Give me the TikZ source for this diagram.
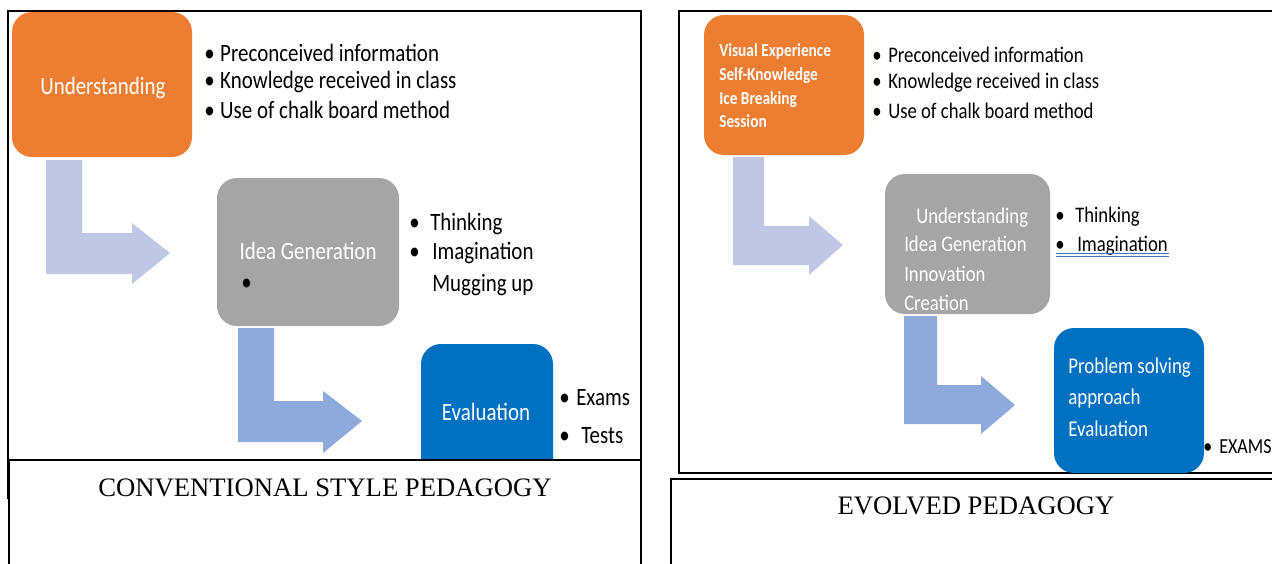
\documentclass[tikz,border=0pt]{standalone}
\usepackage{fontspec}
\setmainfont{Carlito}[FakeStretch=0.84]
\newfontfamily\capfont{Liberation Serif}
\definecolor{boxorange}{HTML}{ED7D31}
\definecolor{boxgray}{HTML}{A5A5A5}
\definecolor{boxblue}{HTML}{0070C0}
\definecolor{arrowlav}{HTML}{BFC7E4}
\definecolor{arrowblue}{HTML}{8EA9DB}
\definecolor{ulblue}{HTML}{4472C4}
\newcommand\bul[1]{\makebox[#1][l]{•}}
\begin{document}
\begin{tikzpicture}[x=0.75pt,y=-0.75pt,
  frame/.style={draw=black,line width=1.1pt},
  rbox/.style={rounded corners=15pt,inner sep=0pt},
  bigtxt/.style={font=\fontsize{18.7}{22}\selectfont,anchor=base west,inner sep=0pt},
  bigc/.style={font=\fontsize{18.7}{22}\selectfont,anchor=base,inner sep=0pt,text=white},
  midtxt/.style={font=\fontsize{16.7}{20}\selectfont,anchor=base west,inner sep=0pt},
  smalltxt/.style={font=\fontsize{13.7}{16}\selectfont\bfseries,anchor=base west,inner sep=0pt,text=white},
  captxt/.style={font=\capfont\fontsize{20}{24}\selectfont,inner sep=0pt}]
\useasboundingbox (0,0) rectangle (1272,564);
\clip (0,0) rectangle (1272,564);
\fill[white] (0,0) rectangle (1272,564);

% ---------------- left panel ----------------
\draw[frame] (8,11) rectangle (641,498);

\node[rbox,fill=boxorange,minimum width=135pt,minimum height=108.75pt] (lund) at (102,84.5) {};
\node[rbox,fill=boxgray,minimum width=136.5pt,minimum height=111pt] (lidea) at (308,252) {};
\node[rbox,fill=boxblue,minimum width=99pt,minimum height=105pt] (leval) at (487,414) {};
\node[bigc] (lundt) at (103,94) {Understanding};
\node[bigc] (lideat) at (308,259) {Idea Generation};
\node[bigc] (levalt) at (486,420) {Evaluation};

\fill[arrowlav] (46,160) -- (82,160) -- (82,233) -- (132,233) -- (132,223) -- (170,253)
  -- (132,284) -- (132,274) -- (46,274) -- cycle;
\fill[arrowblue] (238,328) -- (274,328) -- (274,401) -- (323,401) -- (323,391) -- (362,421)
  -- (323,453) -- (323,442) -- (238,442) -- cycle;

\node[bigtxt] (l1) at (204,61) {\bul{12pt}Preconceived information};
\node[bigtxt] (l2) at (204,88) {\bul{12pt}Knowledge received in class};
\node[bigtxt] (l3) at (204,118) {\bul{12pt}Use of chalk board method};
\node[bigtxt] (lidb) at (241,290) {•};
\node[bigtxt] (lt1) at (409,230) {\bul{15.75pt}Thinking};
\node[bigtxt] (lt2) at (409,259) {\bul{17.25pt}Imagination};
\node[bigtxt] (lt3) at (432,291) {Mugging up};
\node[bigtxt] (le1) at (559,405) {\bul{12.75pt}Exams};
\node[bigtxt] (le2) at (559,443) {\bul{16.5pt}Tests};

\draw[frame,fill=white] (9,460) rectangle (641,590);
\node[captxt] (lcap) at (325,488) {CONVENTIONAL STYLE PEDAGOGY};

% ---------------- right panel ----------------
\draw[frame] (1290,11) -- (679,11) -- (679,473) -- (1290,473);
\draw[frame] (1290,479) -- (671,479) -- (671,590);

\node[rbox,fill=boxorange,minimum width=120pt,minimum height=105pt] (rexp) at (784,85) {};
\node[rbox,fill=boxgray,minimum width=123.75pt,minimum height=105pt] (ridea) at (967.5,244) {};
\node[rbox,fill=boxblue,minimum width=112.5pt,minimum height=108.75pt] (rprob) at (1129,400.5) {};

\fill[arrowlav] (733,157) -- (764,157) -- (764,226) -- (809,226) -- (809,216) -- (843,245)
  -- (809,275) -- (809,265) -- (733,265) -- cycle;
\fill[arrowblue] (904,316) -- (937,316) -- (937,385) -- (981,385) -- (981,376) -- (1015,405)
  -- (981,434) -- (981,424) -- (904,424) -- cycle;

\node[smalltxt] (ro1) at (719,56) {Visual Experience};
\node[smalltxt] (ro2) at (719,80) {Self-Knowledge};
\node[smalltxt] (ro3) at (719,104) {Ice Breaking};
\node[smalltxt] (ro4) at (719,127) {Session};

\node[midtxt] (r1) at (872,62) {\bul{12pt}Preconceived information};
\node[midtxt] (r2) at (872,88) {\bul{12pt}Knowledge received in class};
\node[midtxt] (r3) at (872,118) {\bul{12pt}Use of chalk board method};

\node[midtxt,text=white] (rg1) at (916,223) {Understanding};
\node[midtxt,text=white] (rg2) at (904,251) {Idea Generation};
\node[midtxt,text=white] (rg3) at (904,281) {Innovation};
\node[midtxt,text=white] (rg4) at (904,310) {Creation};

\node[midtxt] (rt1) at (1055,222) {\bul{15pt}Thinking};
\node[midtxt] (rt2) at (1055,251) {\bul{16.5pt}Imagination};
\coordinate (ula) at (1056,253.5);
\coordinate (ulb) at (1169,253.5);
\draw[ulblue,line width=0.7pt] (ula) -- (ulb);
\draw[ulblue,line width=0.7pt] ([yshift=-2.25pt]ula) -- ([yshift=-2.25pt]ulb);

\node[midtxt,font=\fontsize{16.9}{20}\selectfont,text=white] (rb1) at (1068,373) {Problem solving};
\node[midtxt,font=\fontsize{16.9}{20}\selectfont,text=white] (rb2) at (1068,404) {approach};
\node[midtxt,font=\fontsize{16.9}{20}\selectfont,text=white] (rb3) at (1068,436) {Evaluation};

\node[midtxt,font=\fontsize{16.1}{19}\selectfont] (rex) at (1203,453) {\bul{12pt}EXAMS};

\node[captxt] (rcap) at (976,506) {EVOLVED PEDAGOGY};
\end{tikzpicture}
\end{document}
